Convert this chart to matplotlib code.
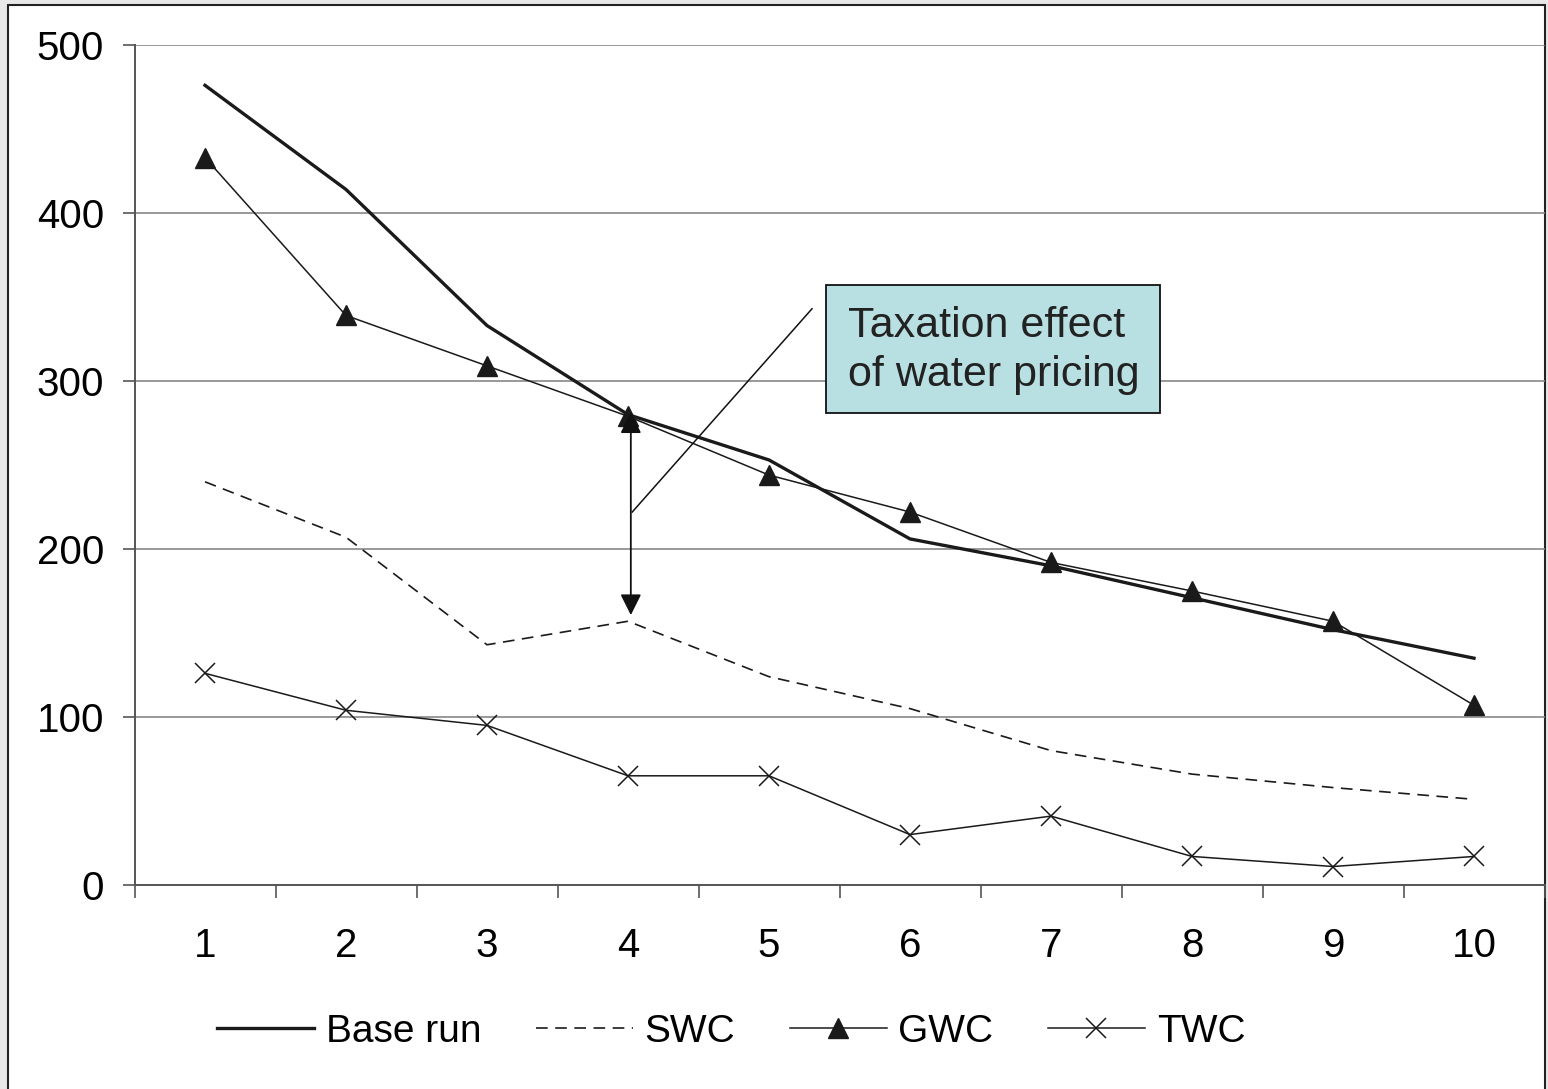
import matplotlib
matplotlib.use("Agg")
import matplotlib.pyplot as plt
from matplotlib.patches import Rectangle

plt.rcParams['font.family'] = ['Liberation Sans', 'DejaVu Sans']

categories = [1, 2, 3, 4, 5, 6, 7, 8, 9, 10]
base_run = [476, 414, 333, 280, 253, 206, 190, 171, 152, 135]
swc = [240, 207, 143, 157, 124, 105, 80, 66, 58, 51]
gwc = [433, 339, 309, 279, 244, 222, 192, 175, 157, 107]
twc = [126, 104, 95, 65, 65, 30, 41, 17, 11, 17]
yticks = [0, 100, 200, 300, 400, 500]

W, H = 1548, 1089
fig = plt.figure(figsize=(W/100, H/100), dpi=100)
fig.patch.set_facecolor('#E8E8E8')
fig.patches.append(Rectangle((8/W, -0.01), (1545-8)/W, 1 - 5/H + 0.01, transform=fig.transFigure,
                             facecolor='white', edgecolor='#222222', lw=1.5, zorder=-10))

ax = fig.add_axes([134.5/W, 1-885/H, (1544.5-134.5)/W, (885-45)/H])
ax.set_zorder(2)
ax.set_facecolor('none')
x = categories
ax.plot(x, base_run, color='#1a1a1a', lw=2.4, label='Base run', zorder=4)
ax.plot(x, swc, color='#1a1a1a', lw=1.2, ls=(0, (7, 4.5)), label='SWC', zorder=3)
ax.plot(x, gwc, color='#1a1a1a', lw=1.1, marker='^', ms=14, label='GWC', zorder=3)
ax.plot(x, twc, color='#1a1a1a', lw=1.1, marker='x', ms=15, mew=1.1, label='TWC', zorder=3)

ax.set_xlim(0.5, 10.5)
ax.set_ylim(0, 500)
ax.set_yticks(yticks)
ax.set_xticks(categories)
ax.set_xticks([c + 0.5 for c in [0] + categories], minor=True)
ax.tick_params(axis='x', which='major', length=0, pad=30, labelsize=29)
ax.tick_params(axis='x', which='minor', length=9, width=1.2, color='#555555', direction='out')
ax.tick_params(axis='y', length=9, width=1.2, color='#555555', labelsize=29, pad=13)
ax.yaxis.grid(True, color='#888888', lw=1.2)
ax.set_axisbelow(True)
for s in ['top', 'right']:
    ax.spines[s].set_visible(False)
ax.spines['left'].set_color('#555555')
ax.spines['left'].set_linewidth(1.4)
ax.spines['bottom'].set_color('#555555')
ax.spines['bottom'].set_linewidth(1.4)

# annotation
ax.annotate('', xy=(4.02, 159), xytext=(4.02, 283),
            arrowprops=dict(arrowstyle='<|-|>', color='#111111', lw=1.3, mutation_scale=32), zorder=5)
ax.plot([4.03, 5.305], [222, 343], color='#111111', lw=1.1, zorder=5)
ax.add_patch(Rectangle((5.404, 281), 7.77 - 5.404, 357 - 281, facecolor='#B8DFE1',
                       edgecolor='#111111', lw=1.3, zorder=6))
ax.text(5.56, 318, 'Taxation effect\nof water pricing', fontsize=31, color='#222222',
        va='center', ha='left', linespacing=1.3, zorder=7)

fig.legend(loc='center', bbox_to_anchor=(731/W, 1-1032/H), ncol=4, frameon=False,
           fontsize=28, handlelength=2.5, handletextpad=0.3, columnspacing=1.4)

fig.savefig('out.png', dpi=100, facecolor=fig.get_facecolor())
